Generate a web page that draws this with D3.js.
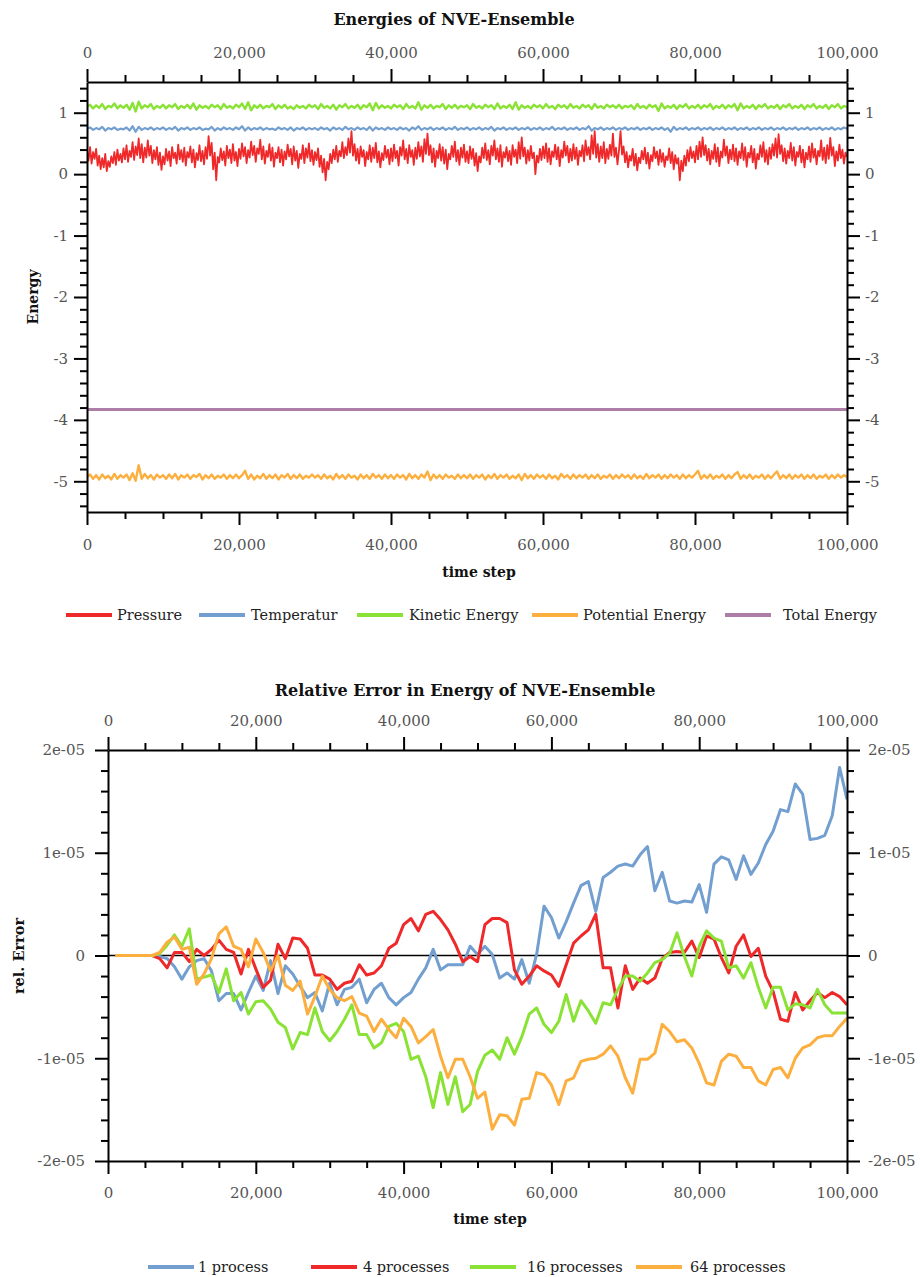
<!DOCTYPE html>
<html><head><meta charset="utf-8">
<script src="https://cdn.jsdelivr.net/npm/d3@7"></script>
<style>
body{margin:0;background:#fff;}
svg text{font-family:"DejaVu Serif",serif;}
</style></head><body>
<svg id="chart" width="920" height="1277"></svg>
<script>
// ---------------- DATA: chart 1 (Energies of NVE-Ensemble) ----------------
const energySeriesNames = ["Pressure","Temperatur","Kinetic Energy","Potential Energy","Total Energy"];
const energyColors = ["#ef2929","#729fcf","#8ae234","#fcaf3e","#ad7fa8"];
const energyXTicks = [0,20000,40000,60000,80000,100000];
const energyYTicks = [-5,-4,-3,-2,-1,0,1];
// pressure: samples every 200 time steps (0 .. 100,000)
const pressure = [
0.38,0.22,0.44,0.17,0.36,0.25,0.41,0.14,0.30,0.08,0.26,0.11,0.33,0.05,0.21,0.12,0.29,0.18,0.36,0.15,0.40,0.22,0.33,0.19,0.42,
0.24,0.47,0.20,0.38,0.28,0.52,0.23,0.45,0.31,0.58,0.26,0.49,0.19,0.43,0.27,0.55,0.30,0.46,0.18,0.39,0.24,0.44,0.15,0.35,0.07,
0.29,0.16,0.41,0.22,0.37,0.13,0.44,0.26,0.35,0.17,0.48,0.24,0.39,0.20,0.43,0.14,0.36,0.27,0.45,0.19,0.40,0.11,0.34,0.23,0.47,
0.21,0.38,0.16,0.44,0.25,0.62,0.30,0.51,0.08,0.35,-0.10,0.28,0.19,0.42,0.23,0.37,0.14,0.46,0.26,0.40,0.18,0.49,0.22,0.36,0.13,
0.41,0.25,0.50,0.29,0.44,0.18,0.39,0.27,0.53,0.31,0.46,0.20,0.42,0.33,0.56,0.24,0.45,0.17,0.38,0.28,0.49,0.22,0.43,0.12,0.35,
0.26,0.44,0.19,0.40,0.14,0.37,0.24,0.48,0.29,0.41,0.16,0.45,0.22,0.38,0.10,0.33,0.25,0.47,0.18,0.42,0.27,0.50,0.21,0.39,0.15,
0.36,0.23,0.42,0.12,0.30,0.03,0.25,-0.10,0.20,0.08,0.33,0.18,0.40,0.24,0.46,0.20,0.38,0.29,0.52,0.26,0.44,0.31,0.58,0.35,0.70,
0.30,0.49,0.22,0.41,0.17,0.45,0.28,0.39,0.13,0.36,0.24,0.47,0.20,0.43,0.26,0.51,0.19,0.37,0.11,0.34,0.23,0.46,0.27,0.40,0.16,
0.42,0.21,0.48,0.26,0.38,0.14,0.44,0.30,0.55,0.24,0.41,0.18,0.47,0.28,0.39,0.15,0.43,0.25,0.52,0.29,0.45,0.20,0.57,0.33,0.66,
0.31,0.47,0.19,0.42,0.12,0.38,0.26,0.49,0.22,0.44,0.17,0.40,0.08,0.33,0.24,0.46,0.28,0.53,0.21,0.39,0.15,0.43,0.27,0.48,0.20,
0.37,0.18,0.45,0.25,0.41,0.14,0.34,0.05,0.29,0.19,0.43,0.26,0.50,0.23,0.39,0.16,0.46,0.30,0.55,0.24,0.42,0.20,0.47,0.12,0.36,
0.27,0.44,0.21,0.38,0.15,0.47,0.28,0.40,0.18,0.52,0.25,0.60,0.29,0.43,0.17,0.39,0.22,0.46,0.26,0.35,0.00,0.30,0.19,0.41,0.23,
0.45,0.26,0.50,0.20,0.42,0.16,0.37,0.28,0.48,0.24,0.44,0.13,0.39,0.27,0.53,0.30,0.46,0.19,0.41,0.22,0.49,0.25,0.43,0.15,0.38,
0.29,0.47,0.21,0.55,0.31,0.44,0.24,0.63,0.33,0.70,0.27,0.49,0.20,0.45,0.26,0.52,0.18,0.41,0.25,0.48,0.30,0.66,0.28,0.43,0.16,
0.39,0.70,0.32,0.45,0.19,0.36,0.11,0.30,0.22,0.41,0.14,0.33,0.06,0.27,0.18,0.38,0.24,0.43,0.17,0.35,0.09,0.31,0.21,0.44,0.26,
0.37,0.15,0.40,0.20,0.34,0.12,0.29,0.23,0.42,0.18,0.36,0.08,0.31,0.17,0.26,-0.10,0.22,0.05,0.30,0.14,0.39,0.21,0.44,0.26,0.37,
0.19,0.46,0.24,0.53,0.28,0.60,0.31,0.47,0.22,0.41,0.16,0.38,0.25,0.49,0.20,0.43,0.13,0.37,0.27,0.56,0.30,0.45,0.18,0.40,0.24,
0.48,0.21,0.42,0.15,0.37,0.26,0.50,0.23,0.44,0.12,0.35,0.27,0.46,0.19,0.41,0.09,0.33,0.24,0.47,0.28,0.52,0.20,0.39,0.16,0.43,
0.25,0.49,0.30,0.58,0.27,0.65,0.33,0.47,0.21,0.42,0.17,0.38,0.26,0.51,0.22,0.44,0.14,0.36,0.28,0.46,0.19,0.40,0.11,0.35,0.24,
0.45,0.20,0.50,0.27,0.41,0.16,0.38,0.29,0.55,0.23,0.43,0.18,0.47,0.25,0.59,0.30,0.44,0.13,0.37,0.22,0.48,0.26,0.40,0.17,0.35,0.28];
// the following energies: samples every 400 time steps (0 .. 100,000)
const temperatur = [
0.74,0.76,0.72,0.75,0.73,0.77,0.71,0.75,0.73,0.76,0.72,0.74,0.73,0.76,0.71,0.78,0.69,0.77,0.72,0.75,0.73,0.76,0.72,0.75,0.73,
0.76,0.72,0.75,0.73,0.77,0.71,0.75,0.73,0.76,0.72,0.75,0.73,0.76,0.72,0.74,0.73,0.77,0.71,0.75,0.72,0.76,0.73,0.75,0.72,0.76,
0.73,0.78,0.71,0.76,0.72,0.75,0.73,0.76,0.72,0.75,0.73,0.74,0.72,0.76,0.73,0.75,0.72,0.76,0.71,0.75,0.73,0.76,0.72,0.75,0.73,
0.75,0.72,0.76,0.73,0.75,0.71,0.76,0.73,0.75,0.72,0.77,0.73,0.75,0.72,0.76,0.73,0.75,0.72,0.77,0.71,0.76,0.73,0.75,0.72,0.76,
0.73,0.75,0.72,0.76,0.73,0.75,0.71,0.76,0.73,0.78,0.72,0.75,0.73,0.76,0.72,0.75,0.73,0.76,0.72,0.75,0.73,0.77,0.72,0.75,0.73,
0.76,0.72,0.75,0.73,0.76,0.72,0.75,0.73,0.77,0.71,0.75,0.73,0.76,0.72,0.75,0.73,0.76,0.72,0.75,0.73,0.76,0.72,0.75,0.73,0.76,
0.72,0.75,0.73,0.77,0.72,0.75,0.73,0.76,0.72,0.75,0.73,0.76,0.72,0.75,0.73,0.78,0.71,0.75,0.73,0.76,0.72,0.75,0.73,0.76,0.72,
0.75,0.73,0.76,0.72,0.75,0.73,0.76,0.72,0.75,0.73,0.76,0.72,0.75,0.73,0.76,0.72,0.75,0.69,0.77,0.72,0.75,0.73,0.76,0.72,0.75,
0.73,0.76,0.72,0.75,0.73,0.76,0.72,0.75,0.73,0.76,0.72,0.75,0.73,0.76,0.72,0.75,0.73,0.76,0.72,0.75,0.73,0.76,0.72,0.75,0.73,
0.76,0.72,0.75,0.73,0.76,0.72,0.75,0.73,0.76,0.72,0.75,0.73,0.76,0.72,0.75,0.73,0.76,0.72,0.75,0.73,0.76,0.72,0.75,0.73,0.76,0.74];
const kineticEnergy = [
1.10,1.13,1.07,1.12,1.08,1.14,1.06,1.11,1.09,1.15,1.07,1.12,1.08,1.13,1.05,1.16,1.02,1.18,1.07,1.12,1.09,1.14,1.06,1.11,1.08,
1.13,1.07,1.12,1.09,1.14,1.06,1.11,1.08,1.13,1.07,1.15,1.05,1.12,1.08,1.11,1.07,1.13,1.09,1.12,1.06,1.14,1.08,1.11,1.07,1.13,
1.09,1.15,1.06,1.17,1.04,1.12,1.08,1.13,1.07,1.11,1.09,1.14,1.06,1.12,1.08,1.13,1.07,1.10,1.06,1.12,1.08,1.11,1.07,1.13,1.09,
1.12,1.06,1.14,1.08,1.11,1.07,1.13,1.05,1.12,1.09,1.14,1.07,1.11,1.08,1.13,1.06,1.12,1.09,1.15,1.04,1.16,1.07,1.12,1.08,1.11,
1.07,1.13,1.09,1.12,1.06,1.14,1.08,1.11,1.07,1.17,1.05,1.12,1.08,1.13,1.07,1.11,1.09,1.14,1.06,1.12,1.08,1.13,1.07,1.11,1.09,
1.12,1.06,1.14,1.08,1.11,1.07,1.13,1.09,1.12,1.06,1.15,1.07,1.11,1.08,1.13,1.06,1.17,1.05,1.12,1.08,1.11,1.07,1.13,1.09,1.12,
1.07,1.14,1.08,1.11,1.06,1.13,1.09,1.12,1.07,1.14,1.08,1.11,1.07,1.13,1.09,1.12,1.06,1.14,1.08,1.11,1.07,1.13,1.09,1.12,1.08,
1.13,1.07,1.11,1.09,1.12,1.06,1.14,1.08,1.11,1.07,1.13,1.09,1.12,1.03,1.15,1.07,1.11,1.08,1.13,1.06,1.12,1.09,1.14,1.07,1.11,
1.08,1.13,1.07,1.12,1.09,1.14,1.06,1.11,1.08,1.13,1.07,1.12,1.09,1.14,1.04,1.15,1.07,1.11,1.08,1.13,1.06,1.12,1.09,1.14,1.07,
1.11,1.08,1.13,1.06,1.12,1.09,1.14,1.07,1.11,1.08,1.13,1.06,1.12,1.09,1.14,1.07,1.11,1.08,1.13,1.06,1.12,1.09,1.14,1.07,1.11,1.09];
const potentialEnergy = [
-4.93,-4.89,-4.96,-4.90,-4.97,-4.89,-4.95,-4.91,-4.97,-4.88,-4.96,-4.90,-4.94,-4.89,-4.98,-4.87,-4.99,-4.74,-4.96,-4.88,-4.95,-4.90,-4.97,-4.89,-4.94,
-4.90,-4.96,-4.89,-4.95,-4.88,-4.97,-4.90,-4.94,-4.89,-4.96,-4.90,-4.93,-4.88,-4.97,-4.90,-4.95,-4.89,-4.96,-4.91,-4.94,-4.89,-4.96,-4.90,-4.95,-4.89,
-4.95,-4.90,-4.83,-4.96,-4.89,-4.97,-4.91,-4.95,-4.88,-4.96,-4.90,-4.95,-4.89,-4.97,-4.90,-4.94,-4.88,-4.96,-4.90,-4.95,-4.89,-4.96,-4.91,-4.94,-4.89,
-4.94,-4.90,-4.96,-4.89,-4.95,-4.91,-4.97,-4.88,-4.95,-4.90,-4.96,-4.89,-4.94,-4.91,-4.97,-4.89,-4.95,-4.90,-4.96,-4.88,-4.94,-4.90,-4.96,-4.89,-4.95,
-4.90,-4.96,-4.89,-4.94,-4.90,-4.97,-4.88,-4.95,-4.90,-4.96,-4.89,-4.94,-4.84,-4.98,-4.89,-4.95,-4.90,-4.96,-4.89,-4.94,-4.91,-4.96,-4.89,-4.95,-4.90,
-4.95,-4.89,-4.96,-4.90,-4.94,-4.89,-4.97,-4.90,-4.95,-4.88,-4.96,-4.90,-4.94,-4.89,-4.96,-4.91,-4.95,-4.89,-4.98,-4.88,-4.95,-4.90,-4.96,-4.89,-4.94,
-4.90,-4.96,-4.89,-4.95,-4.91,-4.97,-4.88,-4.94,-4.90,-4.96,-4.89,-4.95,-4.90,-4.94,-4.89,-4.96,-4.90,-4.95,-4.89,-4.96,-4.91,-4.94,-4.89,-4.96,-4.90,
-4.95,-4.89,-4.94,-4.90,-4.96,-4.89,-4.95,-4.91,-4.96,-4.88,-4.95,-4.90,-4.94,-4.89,-4.96,-4.90,-4.95,-4.89,-4.94,-4.90,-4.96,-4.89,-4.95,-4.90,-4.94,
-4.89,-4.83,-4.96,-4.90,-4.95,-4.89,-4.96,-4.91,-4.94,-4.89,-4.96,-4.90,-4.95,-4.89,-4.85,-4.96,-4.90,-4.95,-4.89,-4.96,-4.91,-4.94,-4.89,-4.96,-4.90,
-4.95,-4.89,-4.84,-4.96,-4.90,-4.95,-4.89,-4.96,-4.90,-4.94,-4.89,-4.96,-4.90,-4.95,-4.89,-4.96,-4.91,-4.94,-4.89,-4.96,-4.90,-4.95,-4.89,-4.94,-4.90,-4.93];
const totalEnergy = [-3.83,-3.83,-3.83,-3.83,-3.83,-3.83,-3.83,-3.83,-3.83,-3.83,-3.83];

// ---------------- DATA: chart 2 (Relative Error, in units of 1e-5) ----------------
const errorSeriesNames = ["1 process","4 processes","16 processes","64 processes"];
const errorColors = ["#729fcf","#ef2929","#8ae234","#fcaf3e"];
const errorXTicks = [0,20000,40000,60000,80000,100000];
const errorYTicks = [-2e-5,-1e-5,0,1e-5,2e-5];
const errorYTickLabels = ["-2e-05","-1e-05","0","1e-05","2e-05"];
// samples at time steps 1000, 2000, ..., 100000
const err1 = [0,0,0,0,0,0,-0.01,-0.03,-0.11,-0.23,-0.11,-0.05,-0.03,-0.15,-0.44,-0.37,-0.37,-0.53,-0.36,-0.20,
-0.34,-0.05,-0.37,-0.10,-0.18,-0.30,-0.41,-0.36,-0.54,-0.27,-0.48,-0.33,-0.31,-0.23,-0.46,-0.33,-0.27,-0.41,-0.48,-0.41,
-0.36,-0.23,-0.12,0.06,-0.14,-0.09,-0.09,-0.09,0.09,0.01,0.09,0.01,-0.22,-0.17,-0.23,-0.04,-0.27,0.01,0.48,0.37,
0.17,0.33,0.51,0.68,0.72,0.43,0.76,0.81,0.87,0.89,0.87,0.98,1.06,0.63,0.81,0.53,0.51,0.53,0.52,0.69,
0.42,0.89,0.96,0.93,0.74,0.97,0.79,0.90,1.08,1.21,1.42,1.40,1.67,1.57,1.13,1.14,1.17,1.36,1.83,1.52];
const err4 = [0,0,0,0,0,0,-0.03,-0.12,0.03,0.03,-0.06,0.06,0.00,0.06,0.15,0.06,0.03,-0.18,0.06,-0.13,
-0.31,-0.24,0.11,-0.03,0.17,0.16,0.07,-0.19,-0.19,-0.23,-0.33,-0.27,-0.25,-0.09,-0.19,-0.17,-0.10,0.07,0.12,0.30,
0.36,0.24,0.40,0.43,0.35,0.25,0.11,-0.06,-0.01,-0.06,0.30,0.36,0.36,0.32,-0.14,-0.28,-0.20,-0.10,-0.15,-0.19,
-0.30,-0.09,0.12,0.19,0.25,0.40,-0.12,-0.12,-0.51,-0.10,-0.33,-0.22,-0.27,-0.22,-0.03,0.03,0.04,0.03,0.14,-0.02,
0.19,0.16,-0.02,-0.17,0.09,0.20,-0.01,0.07,-0.20,-0.35,-0.62,-0.64,-0.36,-0.53,-0.44,-0.36,-0.41,-0.36,-0.40,-0.48];
const err16 = [0,0,0,0,0,0,0.02,0.10,0.20,0.09,0.26,-0.23,-0.21,-0.19,-0.36,-0.13,-0.44,-0.36,-0.57,-0.45,
-0.44,-0.52,-0.65,-0.70,-0.91,-0.75,-0.77,-0.51,-0.74,-0.83,-0.74,-0.62,-0.48,-0.77,-0.77,-0.90,-0.85,-0.69,-0.66,-0.74,
-1.01,-0.98,-1.18,-1.48,-1.14,-1.45,-1.18,-1.52,-1.45,-1.13,-0.97,-0.92,-1.01,-0.80,-0.96,-0.79,-0.57,-0.51,-0.67,-0.75,
-0.64,-0.38,-0.64,-0.44,-0.54,-0.66,-0.46,-0.48,-0.33,-0.20,-0.20,-0.25,-0.17,-0.07,-0.04,0.02,0.22,-0.01,-0.20,0.09,
0.24,0.17,0.14,-0.12,-0.10,-0.22,-0.07,-0.31,-0.51,-0.31,-0.31,-0.53,-0.47,-0.48,-0.51,-0.33,-0.48,-0.56,-0.56,-0.56];
const err64 = [0,0,0,0,0,0,0.03,0.13,0.18,0.06,0.08,-0.28,-0.18,-0.03,0.21,0.28,0.09,0.06,-0.11,0.16,
0.03,-0.15,0.00,-0.29,-0.34,-0.25,-0.57,-0.40,-0.20,-0.33,-0.41,-0.44,-0.40,-0.56,-0.59,-0.74,-0.62,-0.72,-0.80,-0.61,
-0.69,-0.85,-0.79,-0.72,-0.98,-1.19,-1.01,-1.01,-1.18,-1.39,-1.33,-1.69,-1.55,-1.56,-1.65,-1.40,-1.39,-1.14,-1.16,-1.26,
-1.45,-1.22,-1.19,-1.03,-1.01,-1.00,-0.96,-0.88,-0.98,-1.19,-1.34,-1.01,-1.01,-0.95,-0.67,-0.74,-0.84,-0.82,-0.90,-1.05,
-1.24,-1.26,-1.03,-0.96,-0.98,-1.09,-1.09,-1.22,-1.26,-1.11,-1.09,-1.19,-1.00,-0.90,-0.87,-0.80,-0.78,-0.78,-0.69,-0.61];
const ERR_UNIT = 1e-5;

// ---------------- DRAWING ----------------
const svg = d3.select("#chart");
const LABEL_COLOR = "#555";

function toPoints(arr, t0, t1, mult) {
  const n = arr.length;
  return arr.map((v, i) => ({t: t0 + (t1 - t0) * i / (n - 1), v: v * (mult || 1)}));
}

function styleAxis(g, fontSize) {
  g.select(".domain").attr("stroke", "#000").attr("stroke-width", 2);
  g.selectAll(".tick line").attr("stroke", "#000").attr("stroke-width", 2);
  g.selectAll(".tick text").attr("fill", LABEL_COLOR)
    .style("font-family", "DejaVu Serif").style("font-size", fontSize + "px");
}

function drawFrame(x, y, cfg) {
  const [x0, x1] = x.range();
  const [yb, yt] = y.range();
  const fmtX = d3.format(",");
  const axes = [
    {gen: d3.axisTop(x), tr: `translate(0,${yt})`, pad: cfg.padTop, fmt: fmtX, ticks: cfg.xTicks, minor: cfg.xMinor},
    {gen: d3.axisBottom(x), tr: `translate(0,${yb})`, pad: cfg.padBottom, fmt: fmtX, ticks: cfg.xTicks, minor: cfg.xMinor},
    {gen: d3.axisLeft(y), tr: `translate(${x0},0)`, pad: cfg.padLeft, fmt: cfg.yFmt, ticks: cfg.yTicks, minor: cfg.yMinor},
    {gen: d3.axisRight(y), tr: `translate(${x1},0)`, pad: cfg.padRight, fmt: cfg.yFmt, ticks: cfg.yTicks, minor: cfg.yMinor}
  ];
  axes.forEach(a => {
    const gm = svg.append("g").attr("transform", a.tr)
      .call(a.gen.tickValues(a.minor).tickSize(7).tickSizeOuter(0).tickFormat(""));
    gm.select(".domain").remove();
    gm.selectAll(".tick line").attr("stroke", "#000").attr("stroke-width", 2);
    const gM = svg.append("g").attr("transform", a.tr)
      .call(a.gen.tickValues(a.ticks).tickSize(13).tickSizeOuter(0).tickPadding(a.pad).tickFormat(a.fmt));
    styleAxis(gM, 15);
  });
}

function drawLegend(items, yc) {
  const g = svg.append("g");
  items.forEach(it => {
    g.append("line").attr("x1", it.sx).attr("x2", it.sx + 46).attr("y1", yc).attr("y2", yc)
      .attr("stroke", it.color).attr("stroke-width", 4);
    g.append("text").attr("x", it.tx).attr("y", yc).attr("dy", "0.35em")
      .attr("fill", "#222").style("font-size", "14.5px").text(it.name);
  });
}

// ===== Chart 1 =====
const x1 = d3.scaleLinear().domain([0, 100000]).range([87, 847]);
const y1 = d3.scaleLinear().domain([-5.5, 1.5]).range([512, 82]);

svg.append("text").attr("x", 454).attr("y", 25).attr("text-anchor", "middle")
  .style("font-size", "16px").style("font-weight", "bold").attr("fill", "#111")
  .text("Energies of NVE-Ensemble");

svg.append("clipPath").attr("id", "clip1").append("rect")
  .attr("x", 87).attr("y", 82).attr("width", 760).attr("height", 430);

const energyData = [pressure, temperatur, kineticEnergy, potentialEnergy, totalEnergy];
const energyWidths = [1.8, 2.2, 2.4, 2.4, 3];
const line1 = d3.line().x(d => x1(d.t)).y(d => y1(d.v));
const g1 = svg.append("g").attr("clip-path", "url(#clip1)");
energyData.forEach((arr, i) => {
  g1.append("path").datum(toPoints(arr, 0, 100000))
    .attr("d", line1).attr("fill", "none")
    .attr("stroke", energyColors[i]).attr("stroke-width", energyWidths[i])
    .attr("stroke-linejoin", "round");
});

drawFrame(x1, y1, {
  xTicks: energyXTicks, xMinor: d3.range(0, 100001, 5000).filter(v => v % 20000 !== 0),
  yTicks: energyYTicks, yMinor: d3.range(-54, 15, 2).map(v => v / 10).filter(v => Math.abs(v - Math.round(v)) > 1e-9),
  yFmt: d => String(d), padTop: 11, padBottom: 14, padLeft: 6, padRight: 5
});

svg.append("text").attr("x", 479).attr("y", 577).attr("text-anchor", "middle")
  .style("font-size", "14px").style("font-weight", "bold").attr("fill", "#111").text("time step");
svg.append("text").attr("transform", "translate(38,297) rotate(-90)").attr("text-anchor", "middle")
  .style("font-size", "14px").style("font-weight", "bold").attr("fill", "#111").text("Energy");

drawLegend([
  {sx: 66, tx: 117}, {sx: 199, tx: 251}, {sx: 357, tx: 409}, {sx: 532, tx: 583}, {sx: 725, tx: 783}
].map((p, i) => ({...p, name: energySeriesNames[i], color: energyColors[i]})), 615);

// ===== Chart 2 =====
const x2 = d3.scaleLinear().domain([0, 100000]).range([108, 847]);
const y2 = d3.scaleLinear().domain([-2e-5, 2e-5]).range([1161, 750]);

svg.append("text").attr("x", 465).attr("y", 696).attr("text-anchor", "middle")
  .style("font-size", "16px").style("font-weight", "bold").attr("fill", "#111")
  .text("Relative Error in Energy of NVE-Ensemble");

svg.append("clipPath").attr("id", "clip2").append("rect")
  .attr("x", 108).attr("y", 750).attr("width", 739).attr("height", 411);

const g2 = svg.append("g").attr("clip-path", "url(#clip2)");
g2.append("line").attr("x1", x2(0)).attr("x2", x2(100000)).attr("y1", y2(0)).attr("y2", y2(0))
  .attr("stroke", "#000").attr("stroke-width", 1.5);
const line2 = d3.line().x(d => x2(d.t)).y(d => y2(d.v));
[err1, err4, err16, err64].forEach((arr, i) => {
  g2.append("path").datum(toPoints(arr, 1000, 100000, ERR_UNIT))
    .attr("d", line2).attr("fill", "none")
    .attr("stroke", errorColors[i]).attr("stroke-width", 3)
    .attr("stroke-linejoin", "round");
});

drawFrame(x2, y2, {
  xTicks: errorXTicks, xMinor: d3.range(0, 100001, 5000).filter(v => v % 20000 !== 0),
  yTicks: errorYTicks, yMinor: d3.range(-20, 21, 2).filter(v => v % 10 !== 0).map(v => v * 1e-6),
  yFmt: d => errorYTickLabels[errorYTicks.findIndex(t => Math.abs(t - d) < 1e-12)],
  padTop: 11, padBottom: 13, padLeft: 10, padRight: 8
});

svg.append("text").attr("x", 490).attr("y", 1224).attr("text-anchor", "middle")
  .style("font-size", "14px").style("font-weight", "bold").attr("fill", "#111").text("time step");
svg.append("text").attr("transform", "translate(24,956) rotate(-90)").attr("text-anchor", "middle")
  .style("font-size", "14.5px").style("font-weight", "bold").attr("fill", "#111").text("rel. Error");

drawLegend([
  {sx: 148, tx: 198}, {sx: 311, tx: 363}, {sx: 470, tx: 527}, {sx: 636, tx: 690}
].map((p, i) => ({...p, name: errorSeriesNames[i], color: errorColors[i]})), 1267);
</script>
</body></html>
